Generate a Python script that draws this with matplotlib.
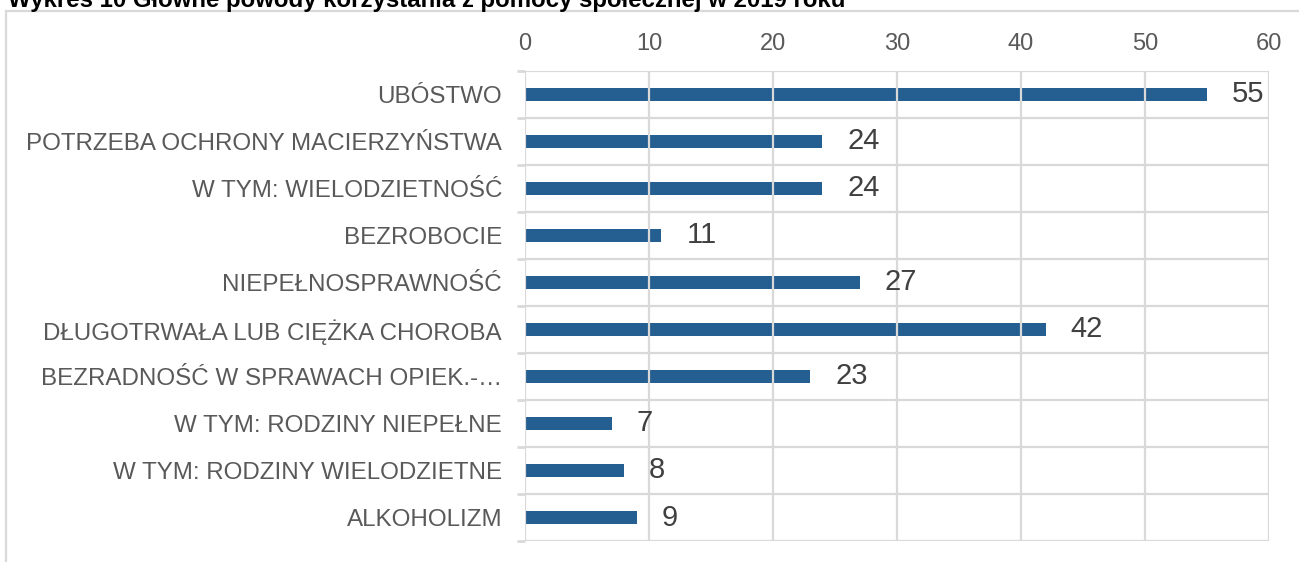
import matplotlib
matplotlib.use("Agg")
import matplotlib.pyplot as plt
from matplotlib.patches import Rectangle
import numpy as np

categories = [
    "UBÓSTWO",
    "POTRZEBA OCHRONY MACIERZYŃSTWA",
    "W TYM: WIELODZIETNOŚĆ",
    "BEZROBOCIE",
    "NIEPEŁNOSPRAWNOŚĆ",
    "DŁUGOTRWAŁA LUB CIĘŻKA CHOROBA",
    "BEZRADNOŚĆ W SPRAWACH OPIEK.-…",
    "W TYM: RODZINY NIEPEŁNE",
    "W TYM: RODZINY WIELODZIETNE",
    "ALKOHOLIZM",
]
values = [55, 24, 24, 11, 27, 42, 23, 7, 8, 9]
xticks = [0, 10, 20, 30, 40, 50, 60]
title = "Wykres 10 Główne powody korzystania z pomocy społecznej w 2019 roku"

plt.rcParams['font.family'] = ['Liberation Sans', 'DejaVu Sans']

W, H = 1299, 562
fig = plt.figure(figsize=(W / 100, H / 100), dpi=100)

# outer frame
fig.patches.append(Rectangle((6 / W, -0.1), 1.2, 1 - 11 / H + 0.1, transform=fig.transFigure,
                             fill=False, edgecolor='#d9d9d9', linewidth=1.6, zorder=0))
fig.text(8 / W, 1 - 7 / H, title, fontsize=17.25, fontweight='bold', color='black',
         ha='left', va='baseline')

left, right = 525 / W, 1268.7 / W
top, bottom = 1 - 71 / H, 1 - 541 / H
ax = fig.add_axes([left, bottom, right - left, top - bottom])

y = np.arange(len(categories))
ax.barh(y, values, height=0.265, color='#255E91', zorder=2)
ax.set_xlim(0, 60)
ax.set_ylim(len(categories) - 0.5, -0.5)

ax.xaxis.tick_top()
ax.set_xticks(xticks)
ax.set_xticklabels([str(t) for t in xticks])
ax.tick_params(axis='x', length=0, pad=11.5, labelsize=17, labelcolor='#595959')
ax.set_yticks(y)
ax.set_yticklabels(categories)
ax.tick_params(axis='y', which='major', length=0, pad=16.5, labelsize=17.4, labelcolor='#595959')
ax.set_yticks(np.arange(len(categories) + 1) - 0.5, minor=True)
ax.tick_params(axis='y', which='minor', length=6, width=2, color='#d9d9d9')

ax.grid(axis='x', color='#d9d9d9', linewidth=1.6, zorder=3)
ax.grid(axis='y', which='minor', color='#d9d9d9', linewidth=1.6, zorder=3)
ax.set_axisbelow(False)
for s in ax.spines.values():
    s.set_visible(False)

for yi, v in zip(y, values):
    ax.annotate(str(v), (v, yi), xytext=(18, 0), textcoords='offset points',
                ha='left', va='center', fontsize=21, color='#404040')

fig.savefig('out.png', dpi=100)
